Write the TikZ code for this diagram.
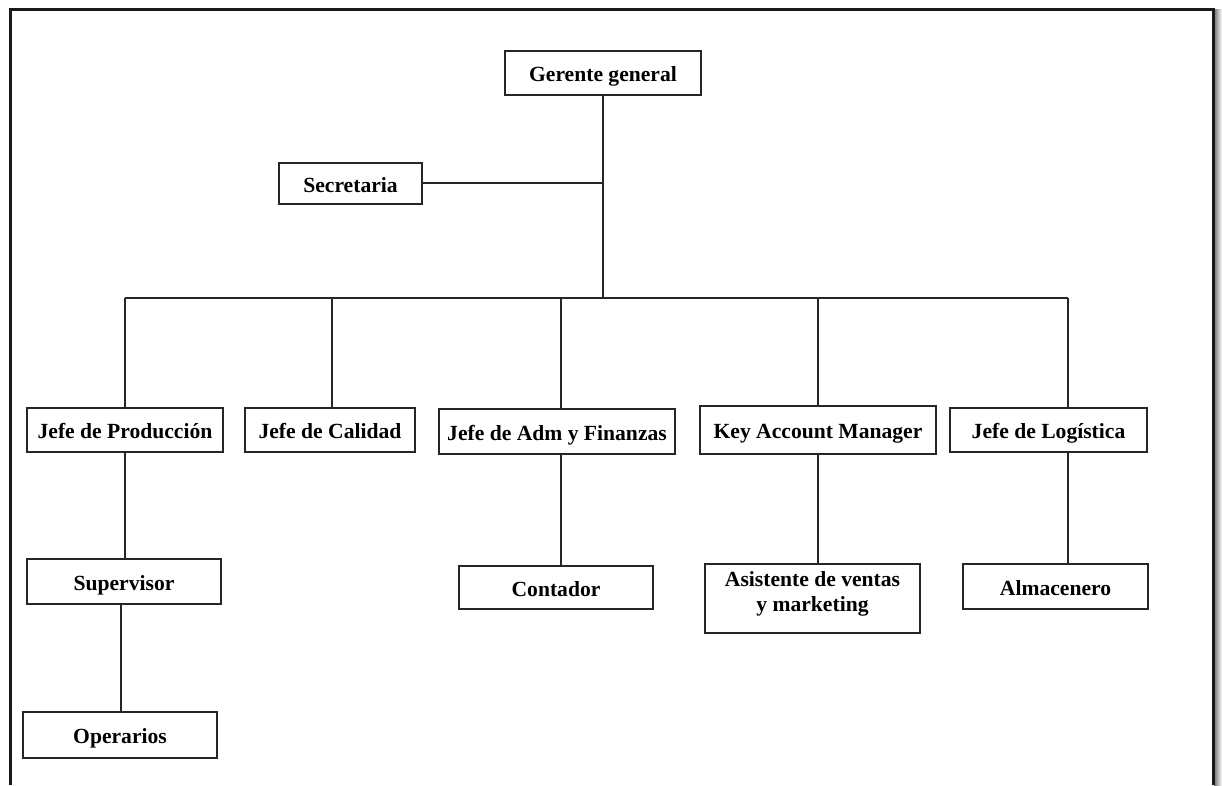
\documentclass[tikz,border=0pt]{standalone}
\usepackage{fontspec}
\setmainfont{Liberation Serif}
\begin{document}
\begin{tikzpicture}[x=1pt,y=-1pt,
  box/.style={draw=black!85, line width=1.7pt, fill=white, inner sep=0pt,
    text height=17.5pt, text depth=0pt,
    font=\fontsize{21.6}{25.5}\selectfont\bfseries},
  link/.style={draw=black!85, line width=1.6pt}]
\useasboundingbox (0,0) rectangle (1222,785);
% page frame, open at the bottom, with a soft shadow on the right
\shade[left color=black!55, right color=white] (1214,9) rectangle (1222,785);
\draw[line width=3pt, black!90] (10,785) -- (10,9.5) -- (1213.5,9.5) -- (1213.5,785);

% boxes
\node[box, minimum width=196pt, minimum height=44pt] (gg)  at (603,73)    {Gerente general};
\node[box, minimum width=143pt, minimum height=41pt] (sec) at (350.5,183.5) {Secretaria};

\node[box, minimum width=196pt, minimum height=44pt] (prod) at (125,430)  {Jefe de Producción};
\node[box, minimum width=170pt, minimum height=44pt] (cal)  at (330,430)  {Jefe de Calidad};
\node[box, minimum width=236pt, minimum height=45pt] (adm)  at (557,431.5){Jefe de Adm y Finanzas};
\node[box, minimum width=236pt, minimum height=48pt] (kam)  at (818,430)  {Key Account Manager};
\node[box, minimum width=197pt, minimum height=44pt] (log)  at (1048.5,430){Jefe de Logística};

\node[box, minimum width=194pt, minimum height=45pt] (sup)  at (124,581.5){Supervisor};
\node[box, minimum width=194pt, minimum height=43pt] (cont) at (556,587.5){Contador};
\node[box, minimum width=215pt, minimum height=69pt, text height=17pt, text depth=42pt]
  (asis) at (812.5,598.5)
  {\begin{tabular}[t]{@{}c@{}}Asistente de ventas\\y marketing\end{tabular}};
\node[box, minimum width=185pt, minimum height=45pt] (alm)  at (1055.5,586.5){Almacenero};
\node[box, minimum width=194pt, minimum height=46pt] (ope)  at (120,735)  {Operarios};

% bus points
\coordinate (top)  at (603,298);
\coordinate (b1)   at (125,298);
\coordinate (b2)   at (332,298);
\coordinate (b3)   at (561,298);
\coordinate (b4)   at (818,298);
\coordinate (b5)   at (1068,298);
\coordinate (sj)   at (603,183);

% connectors
\draw[link] (gg.south) -- (top);
\draw[link] (sec.east |- sj) -- (sj);
\draw[link] (b1) -- (b5);
\draw[link] (b1) -- (b1 |- prod.north);
\draw[link] (b2) -- (b2 |- cal.north);
\draw[link] (b3) -- (b3 |- adm.north);
\draw[link] (b4) -- (b4 |- kam.north);
\draw[link] (b5) -- (b5 |- log.north);

\draw[link] (b1 |- prod.south) -- (b1 |- sup.north);
\draw[link] (b3 |- adm.south) -- (b3 |- cont.north);
\draw[link] (b4 |- kam.south) -- (b4 |- asis.north);
\draw[link] (b5 |- log.south) -- (b5 |- alm.north);
\draw[link] ([xshift=-3pt]sup.south) -- ([xshift=-3pt]sup.south |- ope.north);
\end{tikzpicture}
\end{document}
